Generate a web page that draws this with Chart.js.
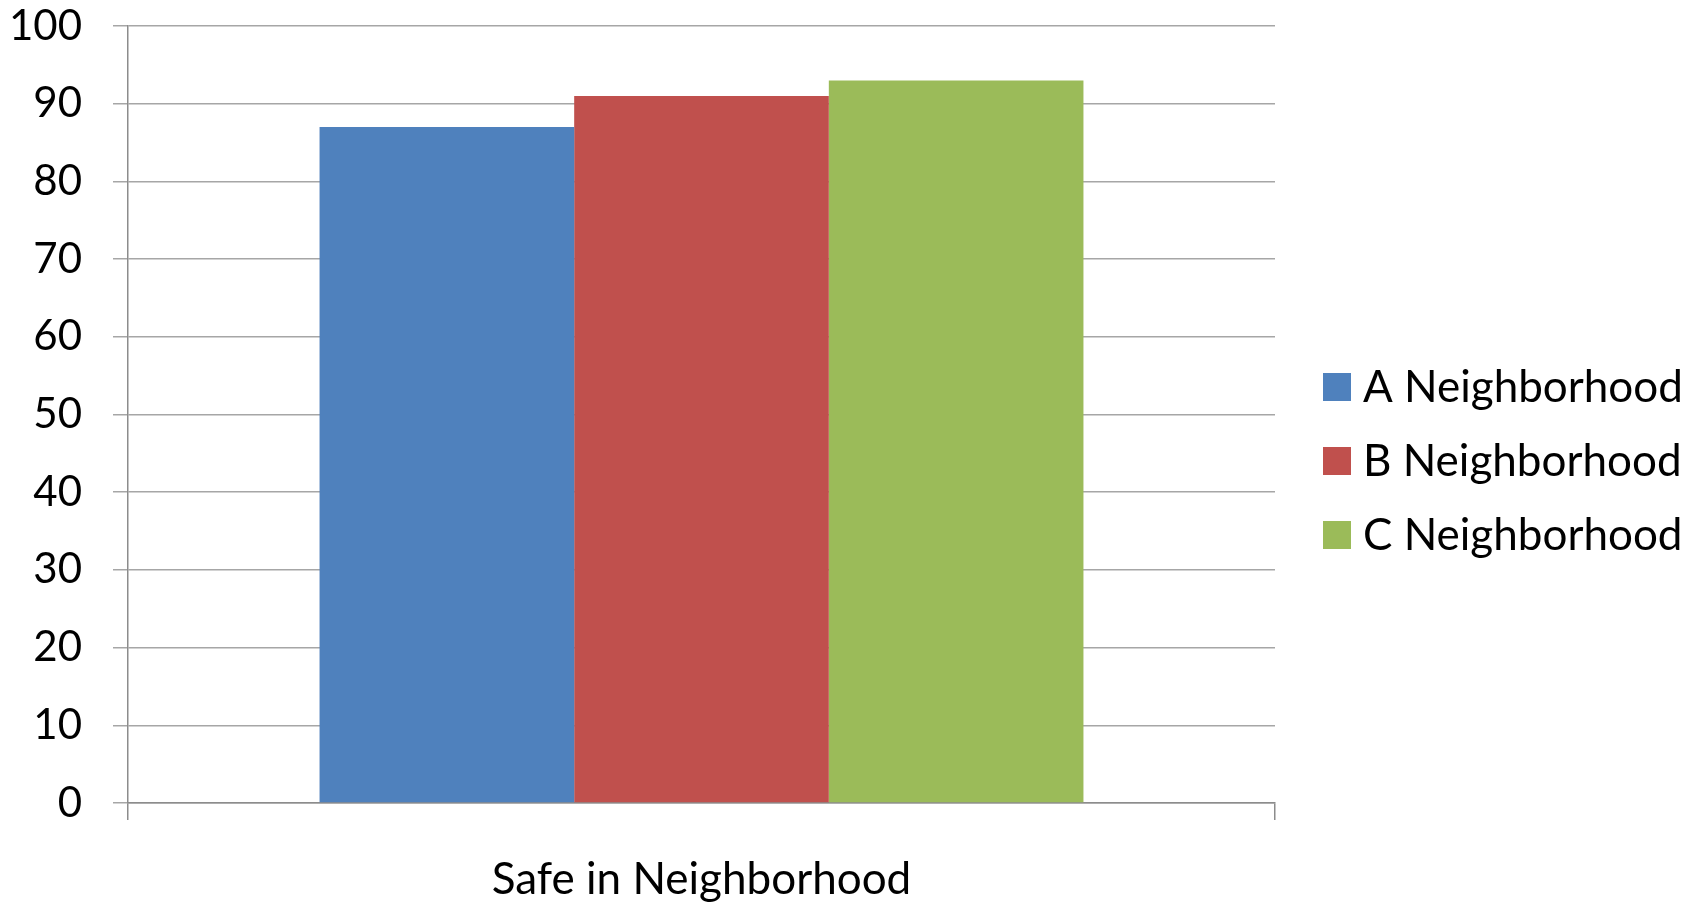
<!DOCTYPE html>
<html lang="en">
<head>
  <meta charset="UTF-8" />
  <title>Safe in Neighborhood</title>
  <script src="https://cdn.jsdelivr.net/npm/chart.js"></script>
  <style>
    html, body { margin: 0; padding: 0; background: #fff; }
    #wrap { width: 1704px; height: 904px; }
  </style>
</head>
<body>
  <div id="wrap"><canvas id="chart" width="1704" height="904"></canvas></div>

  <script>
    // data
    const categories = ["Safe in Neighborhood"];
    const seriesNames = ["A Neighborhood", "B Neighborhood", "C Neighborhood"];
    const seriesValues = [[87], [91], [93]];
    const seriesColors = ["#4F81BD", "#C0504D", "#9BBB59"];
    const yTicks = [0, 10, 20, 30, 40, 50, 60, 70, 80, 90, 100];

    const FONT = "Lato, 'Open Sans', sans-serif";

    // legend on the right, drawn from the datasets
    const sideLegend = {
      id: "sideLegend",
      afterDraw(chart) {
        const ctx = chart.ctx;
        ctx.save();
        ctx.font = "44px " + FONT;
        ctx.textBaseline = "middle";
        ctx.textAlign = "left";
        chart.data.datasets.forEach((ds, i) => {
          const cy = 387 + i * 74;
          ctx.fillStyle = ds.backgroundColor;
          ctx.fillRect(1323, cy - 14, 28, 28);
          ctx.fillStyle = "#000";
          ctx.fillText(ds.label, 1363, cy + 1);
        });
        ctx.restore();
      }
    };

    new Chart(document.getElementById("chart"), {
      type: "bar",
      data: {
        labels: categories,
        datasets: seriesNames.map((name, i) => ({
          label: name,
          data: seriesValues[i],
          backgroundColor: seriesColors[i],
          borderWidth: 0,
          categoryPercentage: 0.666,
          barPercentage: 1.0
        }))
      },
      options: {
        responsive: false,
        animation: false,
        layout: { padding: { left: 0, right: 429, top: 26, bottom: 0 } },
        plugins: {
          legend: { display: false },
          tooltip: { enabled: false }
        },
        scales: {
          y: {
            min: 0,
            max: 100,
            afterBuildTicks(scale) {
              scale.ticks = yTicks.map(v => ({ value: v }));
            },
            afterFit(scale) {
              scale.width = 128;
              scale.paddingTop = 0;
              scale.paddingBottom = 0;
            },
            grid: {
              color: "#a6a6a6",
              lineWidth: 1.5,
              tickLength: 15,
              tickColor: "#a6a6a6"
            },
            border: { color: "#8c8c8c", width: 1.5 },
            ticks: {
              color: "#000",
              padding: 31,
              font: { family: FONT, size: 42 }
            }
          },
          x: {
            afterFit(scale) { scale.height = 101; },
            grid: {
              offset: true,
              drawOnChartArea: false,
              tickLength: 17,
              tickColor: "#8c8c8c",
              lineWidth: 1.5
            },
            border: { color: "#8c8c8c", width: 1.5 },
            ticks: {
              color: "#000",
              padding: 33,
              font: { family: FONT, size: 44 }
            }
          }
        }
      },
      plugins: [sideLegend]
    });
  </script>
</body>
</html>
